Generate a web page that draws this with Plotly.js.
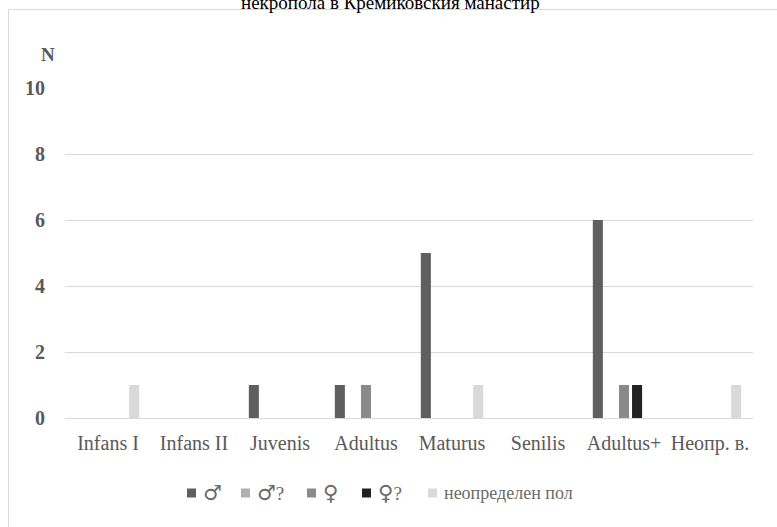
<!DOCTYPE html>
<html>
<head>
<meta charset="utf-8">
<script src="https://cdn.plot.ly/plotly-3.0.1.min.js"></script>
<style>html,body{margin:0;padding:0;background:#fff;}#chart{width:777px;height:527px;}</style>
</head>
<body>
<div id="chart"></div>
<script>
var categories = ["Infans I", "Infans II", "Juvenis", "Adultus", "Maturus", "Senilis", "Adultus+", "Неопр. в."];
var seriesNames = ["♂", "♂?", "♀", "♀?", "неопределен пол"];
var male = [0, 0, 1, 1, 5, 0, 6, 0];
var maleQ = [0, 0, 0, 0, 0, 0, 0, 0];
var female = [0, 0, 0, 1, 0, 0, 1, 0];
var femaleQ = [0, 0, 0, 0, 0, 0, 1, 0];
var undetermined = [1, 0, 0, 0, 1, 0, 0, 1];
var yTicks = [0, 2, 4, 6, 8, 10];
var titleText = "некропола в Кремиковския манастир";

var colors = ["#5f5f5f", "#b0b0b0", "#8a8a8a", "#222222", "#d9d9d9"];
var values = [male, maleQ, female, femaleQ, undetermined];
var serif = "'Liberation Serif', 'DejaVu Serif', serif";
var symFont = "'DejaVu Sans', 'DejaVu Serif', sans-serif";

var traces = values.map(function (v, i) {
  return {
    type: "bar",
    x: categories,
    y: v,
    name: seriesNames[i],
    marker: {color: colors[i]},
    hoverinfo: "x+y+name"
  };
});

var W = 777, H = 527;
var L = 65, R = 24, T = 88, B = 109;
var pw = W - L - R, ph = H - T - B;
function px(x) { return (x - L) / pw; }
function py(y) { return (H - B - y) / ph; }

// custom legend (swatch + label), positions in page pixels
var legendX = [187, 241, 307, 362, 428];
var legendY = 493;
var sw = 9;

var shapes = [{
  type: "rect", xref: "paper", yref: "paper",
  x0: px(8.5), x1: px(800), y0: py(560), y1: py(9.5),
  line: {color: "#d9d9d9", width: 1},
  fillcolor: "rgba(0,0,0,0)", layer: "below"
}];
var annotations = [
  {
    text: titleText, xref: "paper", yref: "paper",
    x: px(390), y: py(15), xanchor: "center", yanchor: "bottom",
    showarrow: false, font: {family: serif, size: 19, color: "#000000"}
  },
  {
    text: "<b>N</b>", xref: "paper", yref: "paper",
    x: px(48), y: py(55), xanchor: "center", yanchor: "middle",
    showarrow: false, font: {family: serif, size: 19, color: "#595959"}
  }
];

seriesNames.forEach(function (name, i) {
  shapes.push({
    type: "rect", xref: "paper", yref: "paper",
    x0: px(legendX[i]), x1: px(legendX[i] + sw),
    y0: py(legendY + sw / 2), y1: py(legendY - sw / 2),
    line: {width: 0}, fillcolor: colors[i]
  });
  var isSym = name.charAt(0) === "♂" || name.charAt(0) === "♀";
  var label = isSym
    ? name.charAt(0) + (name.length > 1 ? "<span style='font-family:Liberation Serif;font-size:19px'>" + name.slice(1) + "</span>" : "")
    : name;
  annotations.push({
    text: label, xref: "paper", yref: "paper",
    x: px(legendX[i] + sw + 5), y: py(legendY), xanchor: "left", yanchor: "middle",
    showarrow: false,
    font: {family: isSym ? symFont : serif, size: isSym ? 21 : 18, color: "#6a6a6a"}
  });
});

var layout = {
  width: W,
  height: H,
  margin: {l: L, r: R, t: T, b: B, pad: 0},
  paper_bgcolor: "#ffffff",
  plot_bgcolor: "#ffffff",
  barmode: "group",
  bargap: 0.24,
  bargroupgap: 0.23,
  font: {family: serif, size: 18, color: "#595959"},
  showlegend: false,
  xaxis: {
    type: "category",
    showgrid: false,
    showline: true,
    linecolor: "#d9d9d9",
    linewidth: 1,
    ticks: "",
    tickfont: {family: serif, size: 20, color: "#595959"},
    ticklabelstandoff: 7,
    fixedrange: true
  },
  yaxis: {
    range: [0, 10],
    tickvals: yTicks,
    ticktext: yTicks.map(String),
    showgrid: true,
    gridcolor: "#d9d9d9",
    gridwidth: 1,
    zeroline: false,
    showline: false,
    ticks: "",
    tickfont: {family: serif, size: 20, color: "#595959", weight: "bold"},
    ticklabelstandoff: 19,
    fixedrange: true
  },
  shapes: shapes,
  annotations: annotations
};

Plotly.newPlot("chart", traces, layout, {displayModeBar: false, staticPlot: true});
</script>
</body>
</html>
